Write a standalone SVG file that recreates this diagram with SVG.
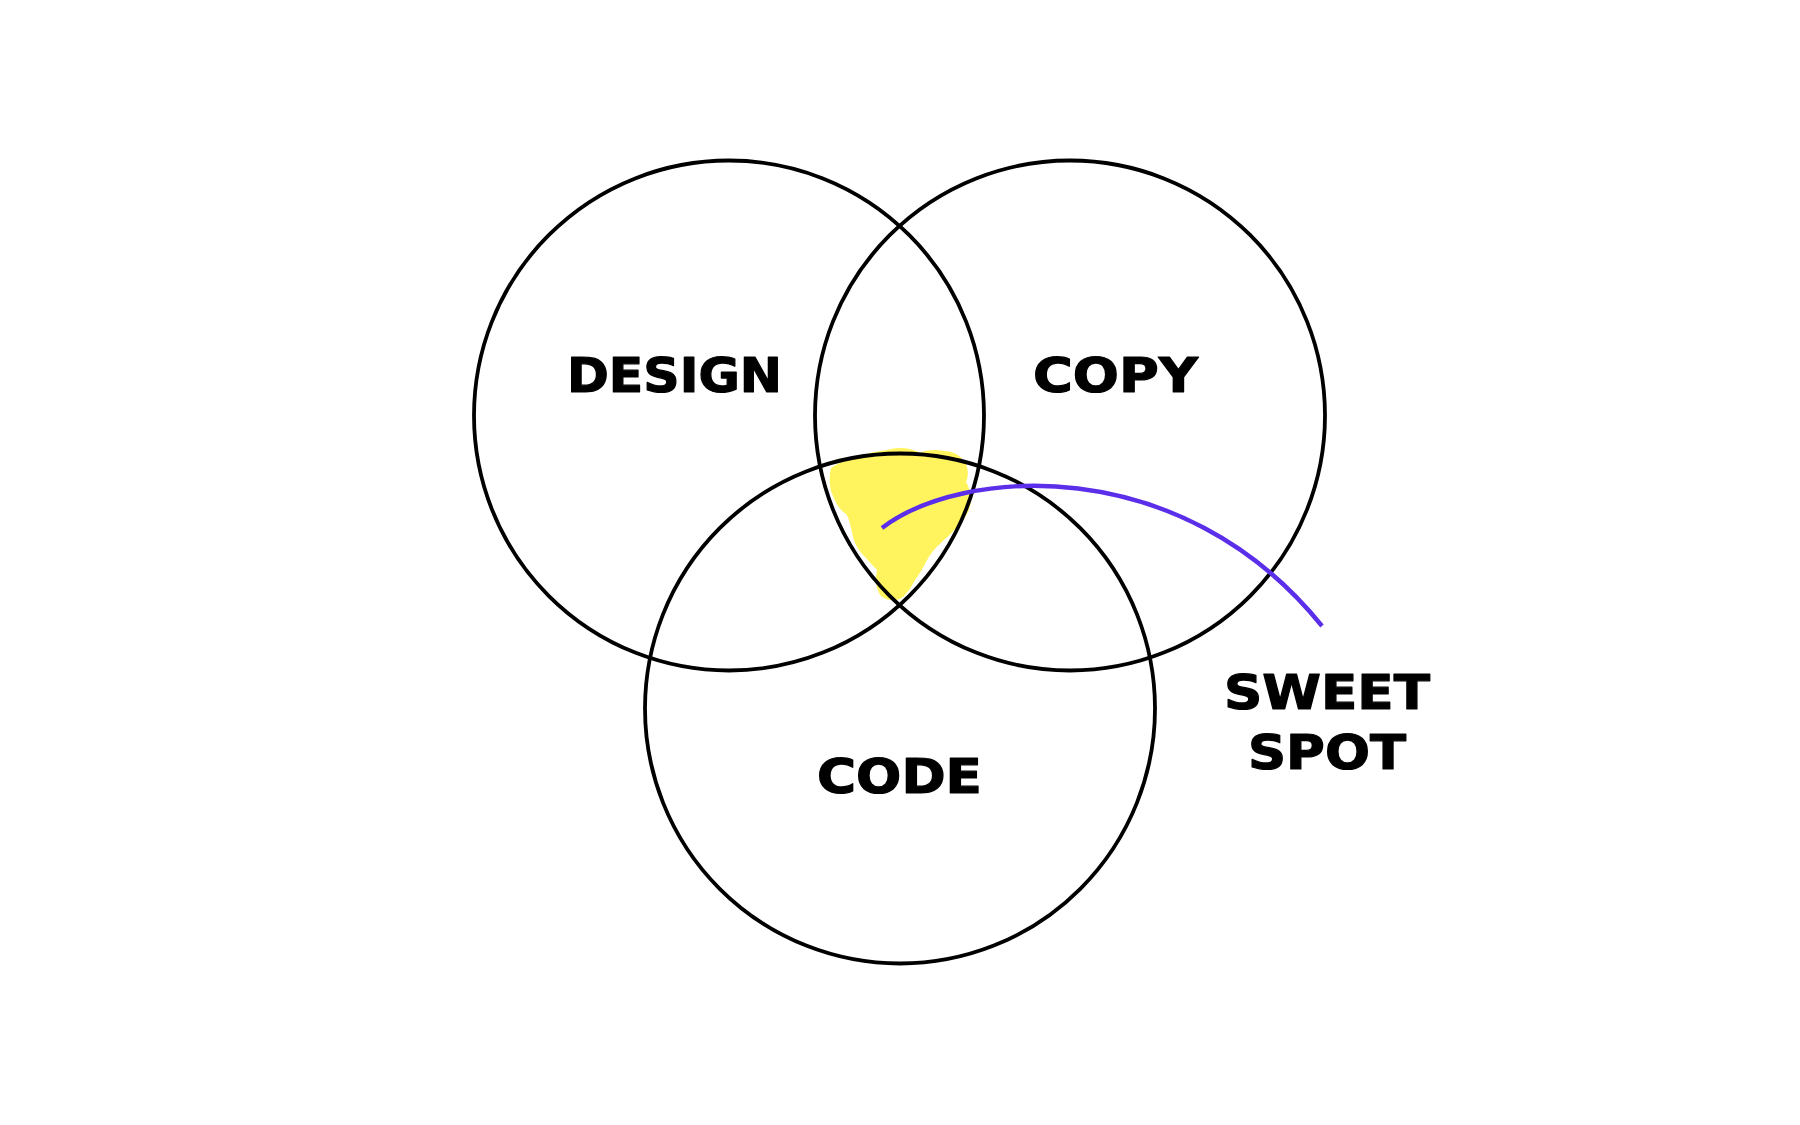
<svg xmlns="http://www.w3.org/2000/svg" width="1800" height="1125" viewBox="0 0 1800 1125">
  <style>
    .ring { fill: none; stroke: #000000; stroke-width: 3.8; }
    .lbl { font-family: "DejaVu Sans", "Liberation Sans", sans-serif; font-weight: bold; font-size: 48px; fill: #000000; stroke: #000000; stroke-width: 1.2; stroke-linejoin: round; }
    .link { fill: none; stroke: #5B2EEA; stroke-width: 4.4; stroke-linecap: butt; }
  </style>
  <rect x="0" y="0" width="1800" height="1125" fill="#FFFFFF"/>
  <g id="highlight">
    <path fill="#FFF45E" d="M831,468 C845,458 870,452 887,450 C897,447 910,447 920,453 C928,449 938,450 944,451 C952,451 960,454 966,464 C969,472 968,478 966,482 C971,490 973,502 968,512 C964,520 960,524 956,528 C950,535 946,538 942,542 C935,548 930,554 926,562 C922,570 918,576 915,580 C912,586 908,592 903,597 C897,602 887,601 881,596 C876,590 875,580 877,570 C873,566 868,560 864,556 C857,549 853,540 852,532 C850,524 849,518 846,514 C840,510 836,504 833,496 C829,488 829,476 831,468 Z"/>
  </g>
  <g id="design">
    <circle class="ring" cx="729" cy="415.5" r="255"/>
    <text class="lbl" x="567" y="392" textLength="215" lengthAdjust="spacingAndGlyphs">DESIGN</text>
  </g>
  <g id="copy">
    <circle class="ring" cx="1070" cy="415.5" r="255"/>
    <text class="lbl" x="1033" y="392" textLength="165" lengthAdjust="spacingAndGlyphs">COPY</text>
  </g>
  <g id="code">
    <circle class="ring" cx="900" cy="708.5" r="255"/>
    <text class="lbl" x="817" y="793" textLength="165" lengthAdjust="spacingAndGlyphs">CODE</text>
  </g>
  <g id="connectors">
    <path class="link" d="M882,528 C960,468 1180,450 1322,626"/>
  </g>
  <g id="sweet-spot">
    <text class="lbl" x="1224" y="709" textLength="206" lengthAdjust="spacingAndGlyphs">SWEET</text>
    <text class="lbl" x="1248" y="769" textLength="158" lengthAdjust="spacingAndGlyphs">SPOT</text>
  </g>
</svg>
